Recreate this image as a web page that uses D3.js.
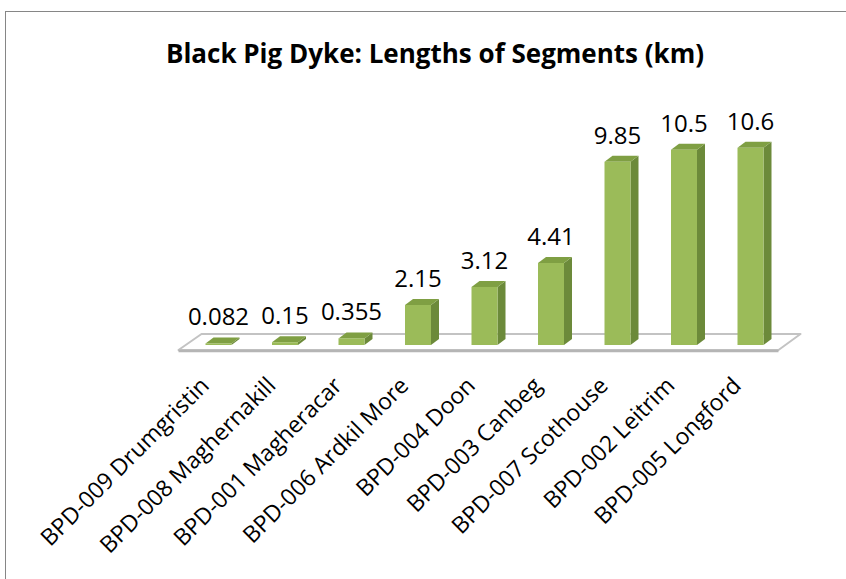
<!DOCTYPE html>
<html>
<head>
<meta charset="utf-8">
<script src="https://cdn.jsdelivr.net/npm/d3@7"></script>
<style>
  html, body { margin: 0; padding: 0; background: #fff; }
  svg { display: block; }
</style>
</head>
<body>
<svg id="chart" width="846" height="579"></svg>
<script>
const categories = [
  "BPD-009 Drumgristin",
  "BPD-008 Maghernakill",
  "BPD-001 Magheracar",
  "BPD-006 Ardkil More",
  "BPD-004 Doon",
  "BPD-003 Canbeg",
  "BPD-007 Scothouse",
  "BPD-002 Leitrim",
  "BPD-005 Longford"
];
const lengths = [0.082, 0.15, 0.355, 2.15, 3.12, 4.41, 9.85, 10.5, 10.6];
const valueLabels = ["0.082", "0.15", "0.355", "2.15", "3.12", "4.41", "9.85", "10.5", "10.6"];
const title = "Black Pig Dyke: Lengths of Segments (km)";

const svg = d3.select("#chart");

// chart area border (only top/left visible in the frame)
svg.append("rect")
  .attr("x", 5.5).attr("y", 11.5)
  .attr("width", 1000).attr("height", 1000)
  .attr("fill", "#fff")
  .attr("stroke", "#868686").attr("stroke-width", 1);

// scales
const x = d3.scalePoint().domain(categories).range([218.5, 750.5]);
const y = d3.scaleLinear().domain([0, 12]).range([345, 345 - 12 * 18.6]);

const barW = 26, depthX = 8, depthY = 6;
const baseY = y(0);

// floor
const first = x(categories[0]), last = x(categories[categories.length - 1]);
const floorFL = [first - 40, baseY + 5];
const floorFR = [last + 28, baseY + 5];
const floorBR = [last + 50, baseY - 11];
const floorBL = [first - 17, baseY - 11];

svg.append("polygon")
  .attr("points", [floorBL, floorBR, floorFR, floorFL].map(p => p.join(",")).join(" "))
  .attr("fill", "#ffffff")
  .attr("stroke", "#c3c3c3")
  .attr("stroke-width", 2)
  .attr("stroke-linejoin", "round");
svg.append("line")
  .attr("x1", floorFL[0]).attr("y1", floorFL[1] + 1)
  .attr("x2", floorFR[0]).attr("y2", floorFR[1] + 1)
  .attr("stroke", "#b5b5b5").attr("stroke-width", 2.5);

// bars
const bars = svg.append("g").selectAll("g.bar")
  .data(categories.map((c, i) => ({ c, v: lengths[i], label: valueLabels[i] })))
  .join("g").attr("class", "bar");

bars.each(function(d) {
  const g = d3.select(this);
  const cx = x(d.c);
  const l = cx - barW / 2, r = cx + barW / 2;
  const t = y(d.v);
  // side face
  g.append("polygon")
    .attr("points", [[r, baseY], [r, t], [r + depthX, t - depthY], [r + depthX, baseY - depthY]].map(p => p.join(",")).join(" "))
    .attr("fill", "#6c8a3a");
  // top face
  g.append("polygon")
    .attr("points", [[l, t], [r, t], [r + depthX, t - depthY], [l + depthX, t - depthY]].map(p => p.join(",")).join(" "))
    .attr("fill", "#7f9f43");
  // front face
  g.append("rect")
    .attr("x", l).attr("y", t)
    .attr("width", barW).attr("height", Math.max(0, baseY - t))
    .attr("fill", "#9bbb59");
  // value label
  g.append("text")
    .attr("x", cx).attr("y", t - 18)
    .attr("text-anchor", "middle")
    .attr("font-family", "'Open Sans', sans-serif")
    .attr("font-size", 24)
    .attr("fill", "#000")
    .text(d.label);
});

// category labels
svg.append("g").selectAll("text.cat")
  .data(categories)
  .join("text")
  .attr("class", "cat")
  .attr("text-anchor", "end")
  .attr("font-family", "'Open Sans', sans-serif")
  .attr("font-size", 23)
  .attr("fill", "#000")
  .attr("transform", d => `translate(${x(d) - 8},${387}) rotate(-45)`)
  .text(d => d);

// title
svg.append("text")
  .attr("x", 435).attr("y", 63)
  .attr("text-anchor", "middle")
  .attr("font-family", "'Open Sans', sans-serif")
  .attr("font-weight", "bold")
  .attr("font-size", 26)
  .attr("fill", "#000")
  .text(title);
</script>
</body>
</html>
